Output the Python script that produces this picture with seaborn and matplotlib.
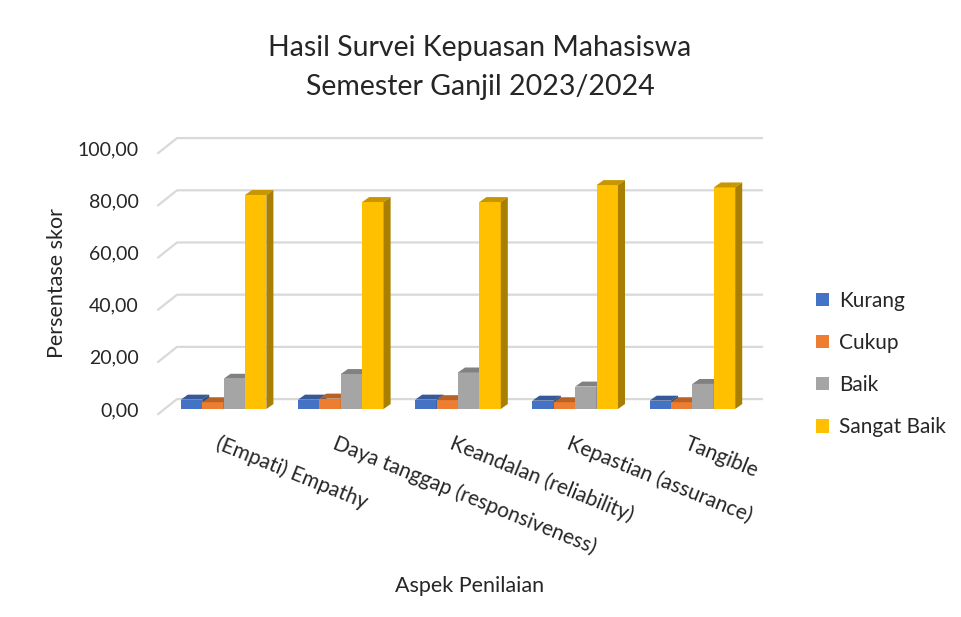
import numpy as np
import pandas as pd
import matplotlib
matplotlib.use('Agg')
from matplotlib import pyplot as plt
from matplotlib import transforms as mtransforms
from matplotlib.patches import Polygon
from matplotlib.colors import to_rgb
import seaborn as sns

# data
aspek = ['(Empati) Empathy', 'Daya tanggap (responsiveness)', 'Keandalan (reliability)',
         'Kepastian (assurance)', 'Tangible']
kurang = [3.6, 3.6, 3.6, 3.2, 3.2]
cukup = [2.6, 4.0, 3.4, 2.6, 2.6]
baik = [11.6, 13.4, 14.0, 8.6, 9.6]
sangat_baik = [82.0, 79.3, 79.3, 85.8, 84.9]
levels = ['Kurang', 'Cukup', 'Baik', 'Sangat Baik']
colors = ['#4472c4', '#ed7d31', '#a5a5a5', '#ffc000']

df = pd.DataFrame({'Aspek': aspek, 'Kurang': kurang, 'Cukup': cukup,
                   'Baik': baik, 'Sangat Baik': sangat_baik})
long = df.melt(id_vars='Aspek', var_name='Kategori', value_name='Skor')

sns.set_theme(style='white')
plt.rcParams['font.family'] = ['Lato', 'DejaVu Sans']
txt = '#262626'

fig = plt.figure(figsize=(9.62, 6.17), dpi=100)
W, H = 962, 617
ax = fig.add_axes([165 / W, (617 - 409) / H, 586 / W, 261 / H])

sns.barplot(data=long, x='Aspek', y='Skor', hue='Kategori', hue_order=levels,
            palette=colors, width=0.73, ax=ax, legend=False, saturation=1,
            edgecolor='none', linewidth=0)
ax.set_ylim(0, 100)
ax.set_xlim(-0.5, len(aspek) - 0.5)

# back wall grid lines, shifted up/right for the 3-D look
blend = mtransforms.blended_transform_factory(ax.transAxes, ax.transData)
for v in range(0, 101, 20):
    ax.plot([-0.012, 0.0205, 1.019], [v - 2, v + 3.8, v + 3.8], transform=blend,
            color='#d9d9d9', lw=1.6, clip_on=False, zorder=0.5)

# pseudo 3-D: top and side faces for each bar
dx, dy = 0.06, 1.9
n = len(aspek)
for k, bar in enumerate(ax.patches):
    j = k // n
    x0, w, h = bar.get_x(), bar.get_width(), bar.get_height()
    base = np.array(to_rgb(bar.get_facecolor()))
    bar.set_zorder(2 + 2 * j)
    top = Polygon([(x0, h), (x0 + w, h), (x0 + w + dx, h + dy), (x0 + dx, h + dy)],
                  closed=True, facecolor=base * 0.78, edgecolor='none',
                  clip_on=False, zorder=3 + 2 * j)
    side = Polygon([(x0 + w, 0), (x0 + w + dx, dy), (x0 + w + dx, h + dy), (x0 + w, h)],
                   closed=True, facecolor=base * 0.66, edgecolor='none',
                   clip_on=False, zorder=3 + 2 * j)
    ax.add_patch(top)
    ax.add_patch(side)

sns.despine(ax=ax, left=True, bottom=True)
ax.set_yticks(range(0, 101, 20))
ax.set_yticklabels([f'{v:.2f}'.replace('.', ',') for v in range(0, 101, 20)],
                   fontsize=14, color=txt)
ax.tick_params(axis='y', length=0, pad=19)

# slanted category labels
ax.set_xticks(range(len(aspek)))
ax.set_xticklabels(aspek, rotation=-22, rotation_mode='anchor', ha='left', va='top',
                   fontsize=15, color=txt)
ax.tick_params(axis='x', length=0, pad=17.5)
shift = mtransforms.ScaledTranslation(-3 / 100, 0, fig.dpi_scale_trans)
for lab in ax.get_xticklabels():
    lab.set_transform(lab.get_transform() + shift)
ax.set_xlabel('')
ax.set_ylabel('')

fig.text(470 / W, 1 - 586 / H, 'Aspek Penilaian', ha='center', va='center',
         fontsize=15.5, color=txt)
fig.text(57 / W, 1 - 283 / H, 'Persentase skor', ha='center', va='center',
         rotation=90, fontsize=15.5, color=txt)
fig.text(480 / W, 1 - 48 / H, 'Hasil Survei Kepuasan Mahasiswa', ha='center',
         va='center', fontsize=20.5, color=txt)
fig.text(480 / W, 1 - 87 / H, 'Semester Ganjil 2023/2024', ha='center',
         va='center', fontsize=20.5, color=txt)

handles = [plt.Rectangle((0, 0), 1, 1, facecolor=c, edgecolor='none') for c in colors]
fig.legend(handles, levels, loc='center left', bbox_to_anchor=(806 / W, 1 - 364 / H),
           frameon=False, fontsize=15, handlelength=0.6, handleheight=0.6,
           handletextpad=0.5, labelspacing=1.07, borderpad=0, labelcolor=txt)

fig.savefig('out.png', dpi=100)
